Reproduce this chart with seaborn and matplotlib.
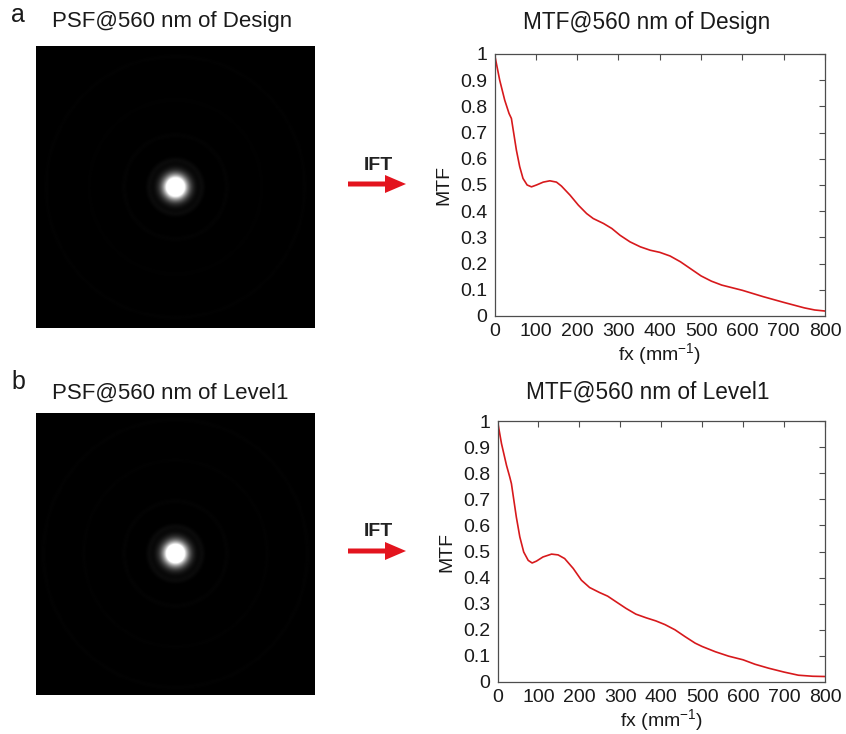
import numpy as np
import pandas as pd
import matplotlib
matplotlib.use("Agg")
import matplotlib.pyplot as plt
import seaborn as sns
from matplotlib.patches import FancyArrow

sns.set_theme(style="white")
plt.rcParams['font.family'] = ['Liberation Sans', 'DejaVu Sans']

# ---------------- data ----------------
fx_design = [0, 12.6, 24.7, 35.2, 40.9, 46.6, 53, 61, 69, 79, 89.5, 101.6, 118, 134, 150, 162,
             183, 203, 223, 239, 264, 284, 304, 328, 353, 377, 400, 425, 450, 475, 500, 525,
             550, 600, 650, 700, 750, 775, 800]
mtf_design = [1.0, 0.90, 0.824, 0.773, 0.754, 0.697, 0.633, 0.57, 0.525, 0.50, 0.493, 0.50, 0.511,
              0.516, 0.511, 0.496, 0.461, 0.423, 0.391, 0.372, 0.353, 0.334, 0.308, 0.283, 0.264,
              0.251, 0.243, 0.229, 0.207, 0.18, 0.153, 0.133, 0.118, 0.098, 0.074, 0.052, 0.031,
              0.023, 0.019]

fx_level1 = [0, 9.8, 22, 30, 34, 40, 46, 54.5, 64, 75, 84.6, 95, 111, 132, 148, 164, 185, 205,
             225, 249, 269, 290, 314, 338, 363, 387, 409, 433.5, 458, 482.7, 500, 532, 564.6,
             600, 629, 662, 700, 735, 770, 800]
mtf_level1 = [1.0, 0.913, 0.83, 0.785, 0.76, 0.696, 0.632, 0.556, 0.498, 0.466, 0.456, 0.463,
              0.479, 0.49, 0.487, 0.473, 0.435, 0.39, 0.362, 0.343, 0.329, 0.307, 0.282, 0.26,
              0.246, 0.234, 0.22, 0.20, 0.174, 0.149, 0.136, 0.116, 0.099, 0.085, 0.068, 0.053,
              0.038, 0.026, 0.022, 0.021]

x_ticks = [0, 100, 200, 300, 400, 500, 600, 700, 800]
y_ticks = [0, 0.1, 0.2, 0.3, 0.4, 0.5, 0.6, 0.7, 0.8, 0.9, 1]
y_ticklabels = ["0", "0.1", "0.2", "0.3", "0.4", "0.5", "0.6", "0.7", "0.8", "0.9", "1"]

psf_titles = ["PSF@560 nm of Design", "PSF@560 nm of Level1"]
mtf_titles = ["MTF@560 nm of Design", "MTF@560 nm of Level1"]
panel_letters = ["a", "b"]

# PSF description: core width and faint ring radii / strengths
psf_core_sigma = [0.056, 0.056]
ring_radii = [[0.19, 0.37, 0.62, 0.93], [0.19, 0.37, 0.66, 0.95]]
ring_strength = [[0.018, 0.007, 0.004, 0.005], [0.018, 0.007, 0.0045, 0.0055]]

# ---------------- figure ----------------
W, H = 846, 734
fig = plt.figure(figsize=(W / 100, H / 100), dpi=100)


def rect(x0, y0, x1, y1):
    return [x0 / W, 1 - y1 / H, (x1 - x0) / W, (y1 - y0) / H]


def make_psf(i, n=300):
    g = np.linspace(-1, 1, n)
    X, Y = np.meshgrid(g, g)
    R = np.sqrt(X ** 2 + Y ** 2)
    img = np.exp(-R ** 2 / (2 * psf_core_sigma[i] ** 2))
    for r0, s in zip(ring_radii[i], ring_strength[i]):
        img += s * np.exp(-(R - r0) ** 2 / (2 * 0.015 ** 2))
    return img


psf_rects = [rect(36, 46, 315, 328), rect(36, 413, 315, 695)]
mtf_rects = [rect(494.5, 54, 825, 316), rect(497.5, 421, 825, 682)]
psf_title_pos = [(172, 22), (170.5, 393)]
mtf_title_pos = [(646.5, 22), (648, 392)]
letter_pos = [(18, 15), (18, 382)]
arrow_y = [184, 551]

mtf_data = [(fx_design, mtf_design), (fx_level1, mtf_level1)]
txt = "#1a1a1a"
axc = "#4d4d4d"

for i in range(2):
    # PSF image
    axp = fig.add_axes(psf_rects[i])
    axp.imshow(make_psf(i), cmap="gray", vmin=0, vmax=0.5, interpolation="bilinear", aspect="auto")
    axp.set_xticks([])
    axp.set_yticks([])
    for s in axp.spines.values():
        s.set_visible(False)
    fig.text(psf_title_pos[i][0] / W, 1 - psf_title_pos[i][1] / H, psf_titles[i],
             ha="center", va="center", fontsize=16, color=txt)
    fig.text(mtf_title_pos[i][0] / W, 1 - mtf_title_pos[i][1] / H, mtf_titles[i],
             ha="center", va="center", fontsize=16.3, color=txt)
    fig.text(letter_pos[i][0] / W, 1 - letter_pos[i][1] / H, panel_letters[i],
             ha="center", va="center", fontsize=18, color=txt)

    # arrow + IFT
    ay = arrow_y[i]
    fig.text(378 / W, 1 - (ay - 19) / H, "IFT", ha="center", va="center", fontsize=14,
             fontweight="bold", color="#222222")
    arr = FancyArrow(348 / W, 1 - ay / H, 58 / W, 0, width=5 / H, head_width=18 / H,
                     head_length=21 / W, length_includes_head=True, color="#e3141e",
                     transform=fig.transFigure, linewidth=0)
    fig.patches.append(arr)

    # MTF curve
    axm = fig.add_axes(mtf_rects[i])
    df = pd.DataFrame({"fx": mtf_data[i][0], "MTF": mtf_data[i][1]})
    sns.lineplot(data=df, x="fx", y="MTF", ax=axm, color="#d7191c", linewidth=1.2)
    axm.set_xlim(0, 800)
    axm.set_ylim(0, 1)
    axm.set_xticks(x_ticks)
    axm.set_xticklabels([str(t) for t in x_ticks])
    axm.set_yticks(y_ticks)
    axm.set_yticklabels(y_ticklabels)
    axm.tick_params(direction="in", length=4, width=0.8, top=True, right=True,
                    labelsize=14, colors=axc, labelcolor=txt, pad=5)
    for s in axm.spines.values():
        s.set_color(axc)
        s.set_linewidth(0.9)
    axm.set_xlabel(r"fx (mm$^{\mathregular{-1}}$)", fontsize=14, color=txt, labelpad=1)
    axm.set_ylabel("MTF", fontsize=14, color=txt, labelpad=6)

fig.savefig("out.png", dpi=100, facecolor="white")
